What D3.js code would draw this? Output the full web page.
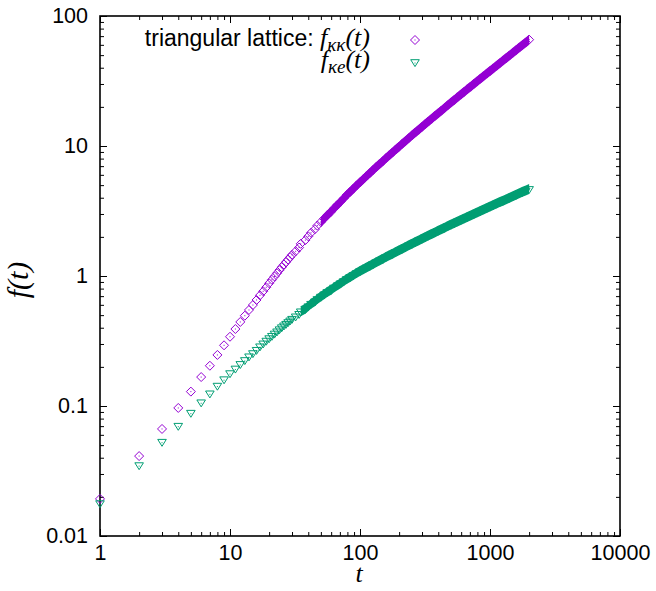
<!DOCTYPE html>
<html>
<head>
<meta charset="utf-8">
<script src="https://cdn.jsdelivr.net/npm/d3@7"></script>
<style>
  body { margin: 0; background: #fff; }
  svg { display: block; }
  .tick text { font-family: "Liberation Sans", Arial, sans-serif; font-size: 21.5px; fill: #000; }
  .tick line { stroke: #000; stroke-width: 1; }
</style>
</head>
<body>
<div id="vis"></div>
<script>
// data (t, f_kk(t), f_ke(t))
const tVals = [1, 2, 3, 4, 5, 6, 7, 8, 9, 10, 11, 12, 13, 14, 15, 16, 17, 18, 19, 20,
  21, 22, 23, 24, 25, 26, 27, 28, 29, 30,
  32, 34, 35, 38, 40, 42, 45, 47, 50, 53, 56, 60, 63, 67, 71, 75, 79, 84, 89, 94,
  100, 106, 112, 119, 126, 133, 141, 150, 158, 168, 178, 188, 200, 211, 224, 237, 251, 266, 282, 299,
  316, 335, 355, 376, 398, 422, 447, 473, 501, 531, 562, 596, 631, 668, 708, 750, 794, 841, 891, 944,
  1000, 1059, 1122, 1189, 1259, 1334, 1413, 1496, 1585, 1679, 1778, 1884, 2000];

const fKK = [0.0193, 0.0412, 0.0666, 0.0966, 0.129, 0.167, 0.204, 0.247, 0.293, 0.341,
  0.391, 0.443, 0.495, 0.548, 0.598, 0.654, 0.71, 0.763, 0.819, 0.879,
  0.935, 0.992, 1.05, 1.109, 1.168, 1.225, 1.281, 1.338, 1.396, 1.454,
  1.549, 1.655, 1.768, 1.889, 2.018, 2.150, 2.291, 2.441, 2.600, 2.764, 2.938, 3.122, 3.319, 3.520,
  3.733, 3.958, 4.198, 4.441, 4.699, 4.972,
  5.260, 5.553, 5.861, 6.188, 6.531, 6.883, 7.253, 7.644, 8.054, 8.478, 8.923, 9.393, 9.886, 10.39,
  10.93, 11.49, 12.08, 12.69, 13.32, 13.99,
  14.69, 15.42, 16.18, 16.98, 17.82, 18.70, 19.61, 20.57, 21.58, 22.62, 23.71, 24.86, 26.06, 27.31,
  28.61, 29.98, 31.41, 32.89, 34.44, 36.06,
  37.76, 39.54, 41.40, 43.35, 45.39, 47.53, 49.77, 52.12, 54.58, 57.15, 59.84, 62.66, 65.77];

const fKE = [0.0176, 0.0345, 0.0522, 0.0693, 0.0873, 0.105, 0.123, 0.141, 0.158, 0.176,
  0.191, 0.207, 0.222, 0.237, 0.251, 0.266, 0.283, 0.298, 0.313, 0.327,
  0.341, 0.355, 0.369, 0.383, 0.397, 0.410, 0.422, 0.435, 0.448, 0.461,
  0.481, 0.503, 0.526, 0.550, 0.575, 0.601, 0.627, 0.654, 0.682, 0.710, 0.740, 0.770, 0.802, 0.833,
  0.865, 0.899, 0.933, 0.966, 1.0, 1.035,
  1.072, 1.106, 1.142, 1.178, 1.216, 1.254, 1.293, 1.333, 1.374, 1.416, 1.459, 1.503, 1.549, 1.595,
  1.643, 1.692, 1.742, 1.793, 1.845, 1.899,
  1.954, 2.010, 2.068, 2.127, 2.188, 2.249, 2.312, 2.377, 2.443, 2.510, 2.579, 2.650, 2.723, 2.796,
  2.871, 2.948, 3.027, 3.108, 3.192, 3.277,
  3.365, 3.453, 3.544, 3.637, 3.733, 3.830, 3.931, 4.034, 4.140, 4.249, 4.360, 4.475, 4.594];

const xTickLabels = [1, 10, 100, 1000, 10000];
const yTickLabels = [0.01, 0.1, 1, 10, 100];

const purple = "#9400d3";
const green = "#009e73";

// margins and measurements
const margin = { top: 16, right: 36, bottom: 55, left: 100 };
const width = 656 - margin.left - margin.right;
const height = 591 - margin.top - margin.bottom;

const svg = d3.select('#vis')
  .append('svg')
  .attr('width', 656)
  .attr('height', 591);

const g = svg.append('g')
  .attr('transform', `translate(${margin.left},${margin.top})`);

const x = d3.scaleLog().domain([1, 10000]).range([0, width]);
const y = d3.scaleLog().domain([0.01, 100]).range([height, 0]);

// minor ticks = log ticks that are not decades
const isDecade = v => Math.abs(Math.log10(v) - Math.round(Math.log10(v))) < 1e-6;
const xMinor = x.ticks().filter(v => !isDecade(v));
const yMinor = y.ticks().filter(v => !isDecade(v));

const noDomain = sel => sel.select('.domain').remove();

// bottom / top
g.append('g').attr('transform', `translate(0,${height})`)
  .call(d3.axisBottom(x).tickValues(xTickLabels).tickSizeInner(-7).tickSizeOuter(0)
    .tickPadding(9).tickFormat(d => String(d)))
  .call(noDomain);
g.append('g').attr('transform', `translate(0,${height})`)
  .call(d3.axisBottom(x).tickValues(xMinor).tickSizeInner(-4).tickSizeOuter(0).tickFormat(''))
  .call(noDomain);
g.append('g')
  .call(d3.axisTop(x).tickValues(xTickLabels).tickSizeInner(-7).tickSizeOuter(0).tickFormat(''))
  .call(noDomain);
g.append('g')
  .call(d3.axisTop(x).tickValues(xMinor).tickSizeInner(-4).tickSizeOuter(0).tickFormat(''))
  .call(noDomain);

// left / right
g.append('g')
  .call(d3.axisLeft(y).tickValues(yTickLabels).tickSizeInner(-7).tickSizeOuter(0)
    .tickPadding(12).tickFormat(d => String(d)))
  .call(noDomain);
g.append('g')
  .call(d3.axisLeft(y).tickValues(yMinor).tickSizeInner(-4).tickSizeOuter(0).tickFormat(''))
  .call(noDomain);
g.append('g').attr('transform', `translate(${width},0)`)
  .call(d3.axisRight(y).tickValues(yTickLabels).tickSizeInner(-7).tickSizeOuter(0).tickFormat(''))
  .call(noDomain);
g.append('g').attr('transform', `translate(${width},0)`)
  .call(d3.axisRight(y).tickValues(yMinor).tickSizeInner(-4).tickSizeOuter(0).tickFormat(''))
  .call(noDomain);

g.append('rect')
  .attr('width', width)
  .attr('height', height)
  .attr('fill', 'none')
  .attr('stroke', '#000')
  .attr('stroke-width', 1.6);

// marker shapes (gnuplot style, with a dot at the centre)
const diamond = "M0,-4.5L4.5,0L0,4.5L-4.5,0Z";
const triangle = "M-4.3,-3.3L4.3,-3.3L0,3.6Z";

// where points are packed so tight that the markers merge into one band,
// draw that band as an area following the points (top/bottom offsets in px)
function drawBand(vals, tMin, up, down, color) {
  const pts = tVals.map((t, i) => ({ t: t, v: vals[i] })).filter(d => d.t >= tMin);
  const area = d3.area()
    .x(d => x(d.t))
    .y0(d => y(d.v) + down)
    .y1(d => y(d.v) - up);
  g.append('path')
    .datum(pts)
    .attr('d', area)
    .attr('fill', color);
}

function drawSeries(vals, shape, color) {
  const pts = tVals.map((t, i) => ({ t: t, v: vals[i] }));
  const grp = g.append('g');
  const m = grp.selectAll('g.pt')
    .data(pts)
    .join('g')
    .attr('class', 'pt')
    .attr('transform', d => `translate(${x(d.t)},${y(d.v)})`);
  m.append('path')
    .attr('d', shape)
    .attr('fill', 'none')
    .attr('stroke', color)
    .attr('stroke-width', 1);
  m.append('rect')
    .attr('x', -0.5).attr('y', -0.5)
    .attr('width', 1).attr('height', 1)
    .attr('fill', color);
}

drawBand(fKK, 50, 5, 5, purple);
drawSeries(fKK, diamond, purple);
drawBand(fKE, 35, 6, 4, green);
drawSeries(fKE, triangle, green);

// key
const serif = '"Liberation Serif", "Times New Roman", serif';
const sans = '"Liberation Sans", Arial, sans-serif';

const key1 = svg.append('text')
  .attr('x', 370).attr('y', 46)
  .attr('text-anchor', 'end');
key1.append('tspan').style('font-family', sans).style('font-size', '23px').text('triangular lattice: ');
key1.append('tspan').style('font-family', serif).style('font-style', 'italic').style('font-size', '26px').text('f');
key1.append('tspan').style('font-family', serif).style('font-style', 'italic').style('font-size', '19px')
  .attr('dy', 5).text('κκ');
key1.append('tspan').style('font-family', serif).style('font-style', 'italic').style('font-size', '26px')
  .attr('dy', -5).text('(t)');

const key2 = svg.append('text')
  .attr('x', 370).attr('y', 68)
  .attr('text-anchor', 'end');
key2.append('tspan').style('font-family', serif).style('font-style', 'italic').style('font-size', '26px').text('f');
key2.append('tspan').style('font-family', serif).style('font-style', 'italic').style('font-size', '19px')
  .attr('dy', 5).text('κe');
key2.append('tspan').style('font-family', serif).style('font-style', 'italic').style('font-size', '26px')
  .attr('dy', -5).text('(t)');

const keyMarks = [{ shape: diamond, color: purple, yy: 40 }, { shape: triangle, color: green, yy: 63 }];
keyMarks.forEach(k => {
  const kg = svg.append('g').attr('transform', `translate(415,${k.yy})`);
  kg.append('path').attr('d', k.shape).attr('fill', 'none').attr('stroke', k.color).attr('stroke-width', 1);
  kg.append('rect').attr('x', -0.5).attr('y', -0.5).attr('width', 1).attr('height', 1).attr('fill', k.color);
});

// axis labels
svg.append('text')
  .attr('x', 359).attr('y', 582)
  .attr('text-anchor', 'middle')
  .style('font-family', serif).style('font-style', 'italic').style('font-size', '26px')
  .text('t');

svg.append('text')
  .attr('transform', 'translate(28,280) rotate(-90)')
  .attr('text-anchor', 'middle')
  .style('font-family', serif).style('font-style', 'italic').style('font-size', '30px')
  .text('f(t)');
</script>
</body>
</html>
